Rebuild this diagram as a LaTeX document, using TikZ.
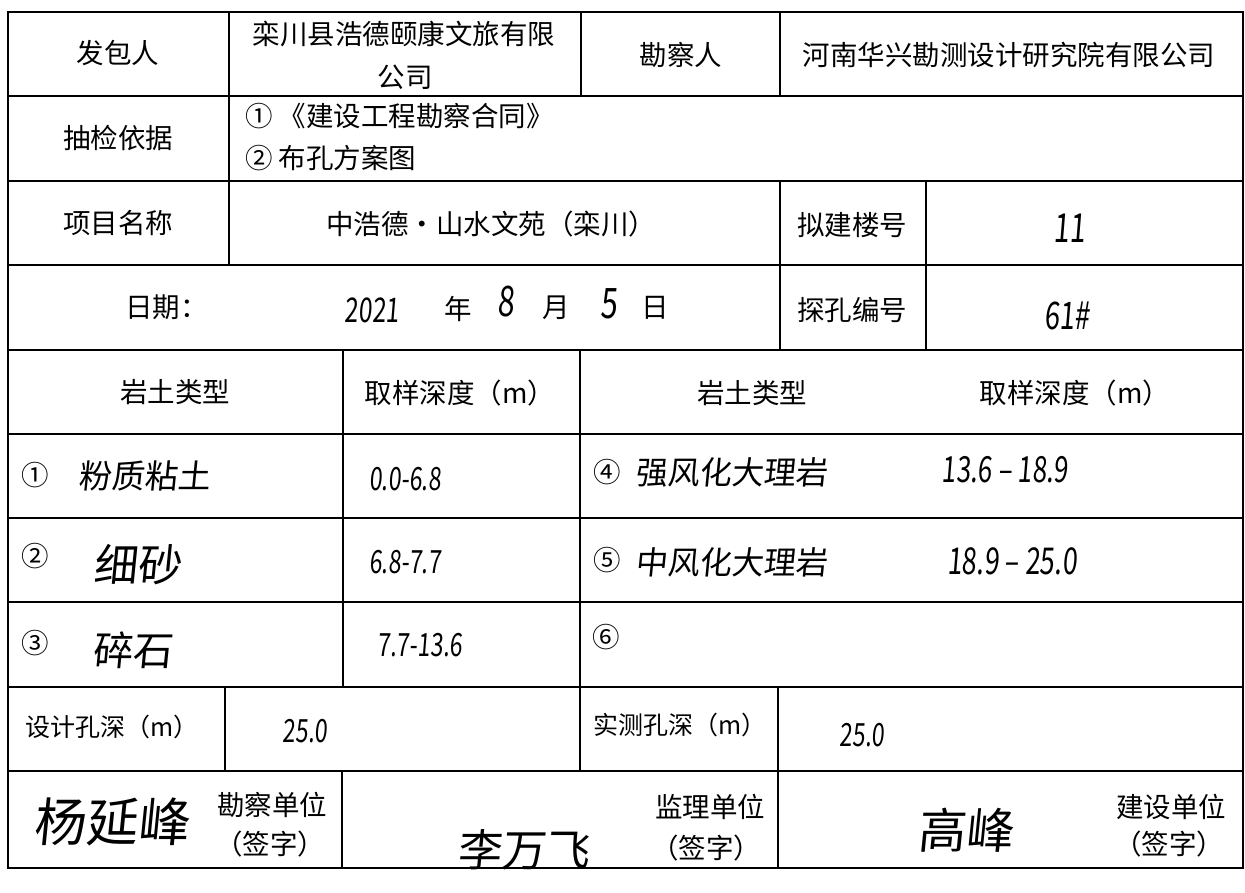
\documentclass[tikz,border=0pt]{standalone}
\usepackage{fontspec}
\setmainfont{Noto Sans CJK SC}
\newfontfamily\handcjk[FakeSlant=0.1]{Noto Sans CJK SC}
\newfontfamily\handnum[FakeSlant=0.08,FakeStretch=0.72]{Noto Sans CJK SC}
\begin{document}
\begin{tikzpicture}[x=1pt,y=-1pt,
  tbl/.style={line width=2pt,line cap=rect,black},
  lbl/.style={inner sep=0pt,font=\fontsize{27.5}{30}\selectfont},
  sm/.style={inner sep=0pt,font=\fontsize{25}{28}\selectfont},
  hwc/.style={inner sep=0pt,font=\handcjk\fontsize{#1}{#1}\selectfont},
  hwn/.style={inner sep=0pt,font=\handnum\fontsize{#1}{#1}\selectfont}]
\useasboundingbox (0,0) rectangle (1245,892);
\fill[white] (0,0) rectangle (1245,892);

% horizontal rules
\foreach \yy in {12,96,181,265,350,434,518,602,687,771,868}
  \draw[tbl] (8,\yy) -- (1243,\yy);
% outer verticals
\draw[tbl] (8,12) -- (8,868);
\draw[tbl] (1243,12) -- (1243,868);
% inner verticals
\draw[tbl] (229,12) -- (229,265);
\draw[tbl] (581,12) -- (581,96);
\draw[tbl] (780,12) -- (780,96);
\draw[tbl] (780,181) -- (780,350);
\draw[tbl] (926,181) -- (926,350);
\draw[tbl] (343,350) -- (343,687);
\draw[tbl] (580,350) -- (580,771);
\draw[tbl] (225,687) -- (225,771);
\draw[tbl] (778,687) -- (778,868);
\draw[tbl] (342,771) -- (342,868);

% row 1
\node[lbl] (fbr) at (118,53) {发包人};
\node[lbl] (fbrA) at (404,34) {栾川县浩德颐康文旅有限};
\node[lbl] (fbrB) at (405,77) {公司};
\node[lbl] (kcr) at (681,55) {勘察人};
\node[lbl] (kcrv) at (1009,55) {河南华兴勘测设计研究院有限公司};
% row 2
\node[lbl] (cjyj) at (118,138) {抽检依据};
\node[lbl,anchor=west] (yjA) at (245,116) {①\ 《建设工程勘察合同》};
\node[lbl,anchor=west] (yjB) at (245,158) {② 布孔方案图};
% row 3
\node[lbl] (xmmc) at (118,223) {项目名称};
\node[lbl] (xmv) at (491,224) {中浩德•山水文苑（栾川）};
\node[lbl] (njlh) at (852,225) {拟建楼号};
\node[hwn=40] (lh) at (1069,228) {11};
% row 4
\node[lbl,anchor=west] (rq) at (125,307) {日期：};
\node[hwn=34] (yr) at (372,310) {2021};
\node[lbl] (nian) at (458,309) {年};
\node[hwn=42] (yue8) at (506,302) {8};
\node[lbl] (yue) at (556,308) {月};
\node[hwn=42] (ri5) at (609,304) {5};
\node[lbl] (ri) at (655,308) {日};
\node[lbl] (tkbh) at (852,310) {探孔编号};
\node[hwn=38] (tkv) at (1067,316) {61\#};
% row 5
\node[lbl] (ytA) at (175,392) {岩土类型};
\node[lbl] (qyA) at (460,393) {取样深度（m）};
\node[lbl] (ytB) at (752,393) {岩土类型};
\node[lbl] (qyB) at (1075,393) {取样深度（m）};
% row 6
\node[lbl] (cA) at (35,475) {①};
\node[hwc=33] (sA) at (144,476) {粉质粘土};
\node[hwn=32] (dA) at (405,479) {0.0-6.8};
\node[lbl] (cD) at (607,472) {④};
\node[hwc=32] (sD) at (731,472) {强风化大理岩};
\node[hwn=36] (dD) at (1005,470) {13.6 – 18.9};
% row 7
\node[lbl] (cB) at (35,556) {②};
\node[hwc=44] (sB) at (137,565) {细砂};
\node[hwn=32] (dB) at (405,562) {6.8-7.7};
\node[lbl] (cE) at (607,560) {⑤};
\node[hwc=32] (sE) at (731,562) {中风化大理岩};
\node[hwn=37] (dE) at (1012,561) {18.9 – 25.0};
% row 8
\node[lbl] (cC) at (35,643) {③};
\node[hwc=40] (sC) at (132,650) {碎石};
\node[hwn=32] (dC) at (420,645) {7.7-13.6};
\node[lbl] (cF) at (606,637) {⑥};
% row 9
\node[sm] (sjks) at (112,727) {设计孔深（m）};
\node[hwn=32] (sjv) at (305,731) {25.0};
\node[sm] (scks) at (680,725) {实测孔深（m）};
\node[hwn=32] (scv) at (862,735) {25.0};
% row 10
\node[lbl] (kcdw) at (272,805) {勘察单位};
\node[lbl] (kcqz) at (270,844) {（签字）};
\node[lbl] (jldw) at (710,807) {监理单位};
\node[lbl] (jlqz) at (706,848) {（签字）};
\node[lbl] (jsdw) at (1171,807) {建设单位};
\node[lbl] (jsqz) at (1169,844) {（签字）};
\node[hwc=52] (sigA) at (111,822) {杨延峰};
\node[hwc=44] (sigB) at (523,850) {李万飞};
\node[hwc=48] (sigC) at (965,830) {高峰};
\end{tikzpicture}
\end{document}
